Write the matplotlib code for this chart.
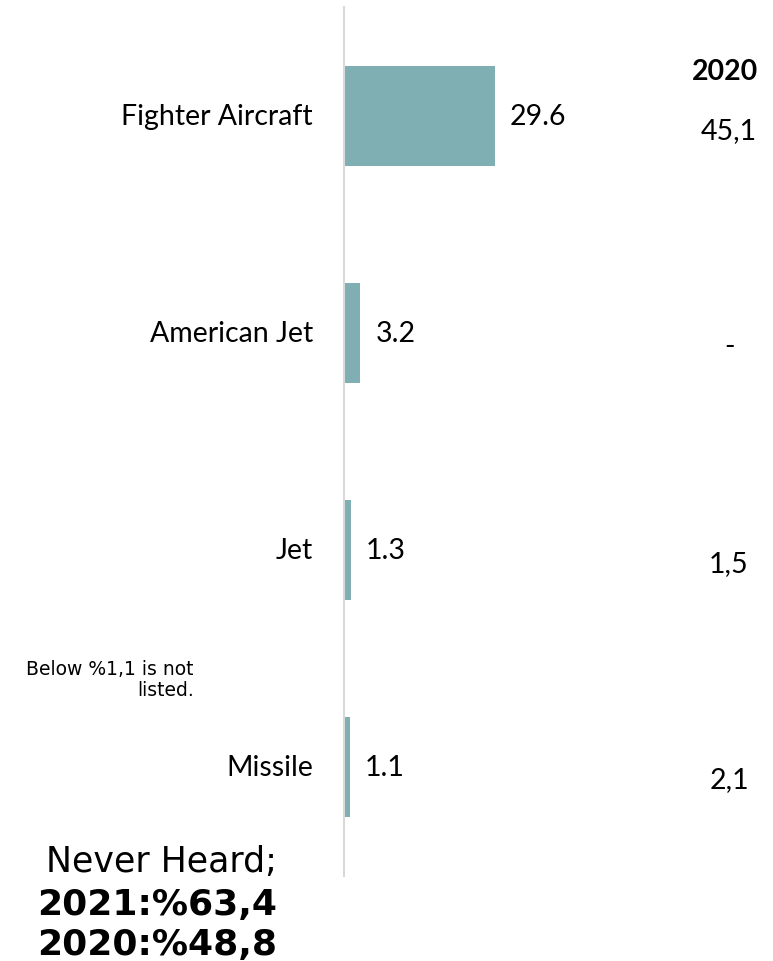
import matplotlib.pyplot as plt

categories = ['Fighter Aircraft', 'American Jet', 'Jet', 'Missile']
values_2021 = [29.6, 3.2, 1.3, 1.1]
labels_2020 = ['45,1', '-', '1,5', '2,1']
never_heard = ['2021:%63,4', '2020:%48,8']

bar_color = '#7fafb3'
W, H = 773, 962

fig = plt.figure(figsize=(W / 100, H / 100), dpi=100)
# axes: left edge at the gray axis line, y span = line span
ax = fig.add_axes([344 / W, 1 - 877 / H, 306 / W, 869 / H])
ax.set_xlim(0, 60)
ax.set_ylim(3.5, -0.5)

ypos = list(range(len(categories)))
ax.barh(ypos, values_2021, height=0.46, color=bar_color)

for s in ['top', 'right', 'bottom']:
    ax.spines[s].set_visible(False)
ax.spines['left'].set_color('#d9d9d9')
ax.spines['left'].set_linewidth(1.5)
ax.set_xticks([])
ax.set_yticks([])

label_font = 'Lato'
for y, cat, v in zip(ypos, categories, values_2021):
    ax.annotate(cat, (0, y), xytext=(-31, 0), textcoords='offset pixels',
                ha='right', va='center', fontsize=20.5, family=label_font)
    ax.annotate(f'{v:.1f}', (v, y), xytext=(15, 0), textcoords='offset pixels',
                ha='left', va='center', fontsize=20.5, family=label_font)

# 2020 column
fig.text(725 / W, 1 - 72 / H, '2020', ha='center', va='center',
         fontsize=20.5, fontweight='bold', family=label_font)
for y, lab in zip(ypos, labels_2020):
    ypix = 131 + y * 216.5
    fig.text(729 / W, 1 - ypix / H, lab, ha='center', va='center',
             fontsize=20.5, family=label_font)

fig.text(194 / W, 1 - 680 / H, 'Below %1,1 is not\nlisted.', ha='right',
         va='center', fontsize=13.5, family='DejaVu Sans', linespacing=1.15)

fig.text(161 / W, 1 - 862 / H, 'Never Heard;', ha='center', va='center',
         fontsize=25, family='DejaVu Sans')
for i, line in enumerate(never_heard):
    fig.text(157 / W, 1 - (905 + i * 40) / H, line, ha='center', va='center',
             fontsize=26, fontweight='bold', family='DejaVu Sans')

fig.savefig('out.png', dpi=100)
